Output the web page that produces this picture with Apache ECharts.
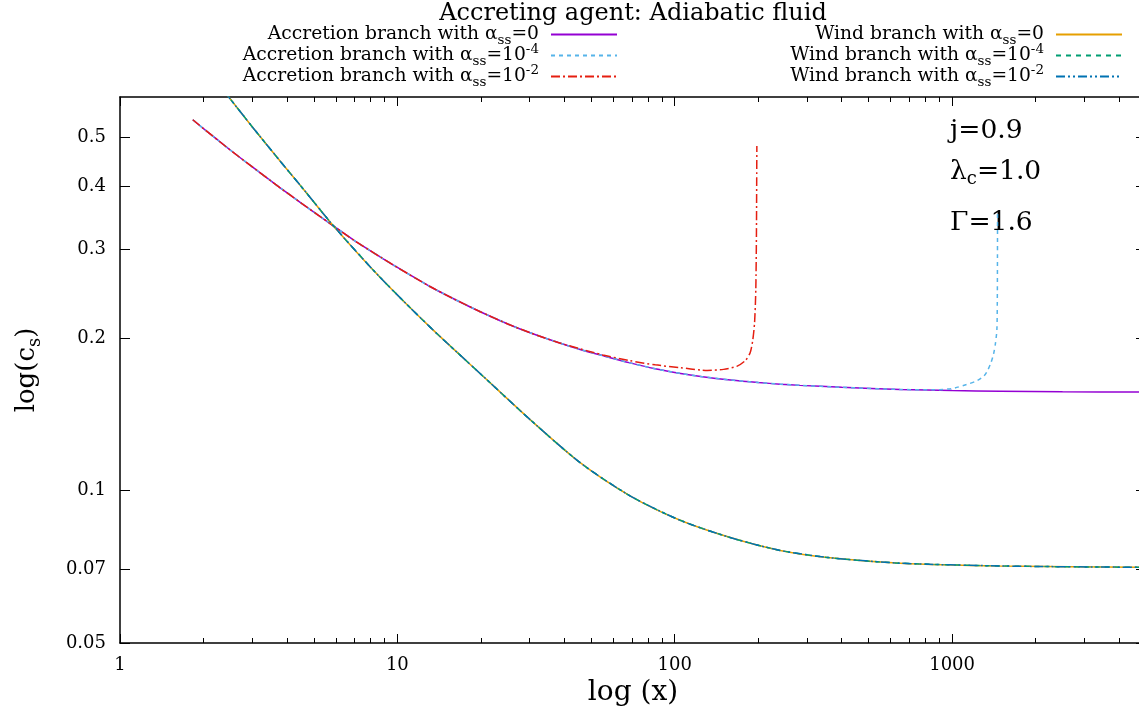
<!DOCTYPE html>
<html>
<head>
<meta charset="utf-8">
<script src="https://cdn.jsdelivr.net/npm/echarts@6/dist/echarts.min.js"></script>
<style>
html, body { margin: 0; padding: 0; background: #fff; }
#chart { width: 1139px; height: 721px; }
</style>
</head>
<body>
<div id="chart"></div>
<script>
// Sound speed c_s against radial distance x (log-log), adiabatic accretion and wind branches.

// Accretion branch, inviscid
const accX = [1.83, 2, 2.49, 3, 3.78, 4.5, 5.96, 7, 8.66, 10, 13.1, 16, 19.9, 25, 30.1, 38, 45.6, 55, 69, 85, 105, 124, 159, 200, 240, 283, 400, 650, 1000, 1490, 2500, 5000];
const accY = [0.541, 0.5196, 0.472, 0.4364, 0.3969, 0.3703, 0.332, 0.3122, 0.2899, 0.2762, 0.2533, 0.2393, 0.2258, 0.2136, 0.2052, 0.1963, 0.1902, 0.1849, 0.1789, 0.1742, 0.1705, 0.1682, 0.1655, 0.1636, 0.1624, 0.1615, 0.1601, 0.1585, 0.1577, 0.1572, 0.1568, 0.1566];

// Accretion branch, alpha_ss = 1e-4: leaves the inviscid curve beyond x = 650
const visc4Split = 650;
const visc4X = [860, 1000, 1130, 1230, 1300, 1340, 1380, 1410, 1432, 1450, 1455, 1457, 1458];
const visc4Y = [0.1583, 0.1592, 0.1622, 0.165, 0.1684, 0.1725, 0.179, 0.186, 0.195, 0.208, 0.235, 0.29, 0.355];

// Accretion branch, alpha_ss = 1e-2: leaves the inviscid curve beyond x = 38
const visc2Split = 38;
const visc2X = [45.6, 55, 69, 85, 105, 124, 131, 150, 168, 180, 187, 191, 194, 196, 197, 197.4, 197.7];
const visc2Y = [0.1907, 0.1855, 0.1807, 0.1773, 0.175, 0.1732, 0.1729, 0.1737, 0.1763, 0.181, 0.1874, 0.198, 0.215, 0.25, 0.32, 0.40, 0.48];

// Wind branch (identical for all three alpha_ss values)
const windX = [2.39, 2.458, 3, 3.776, 4.5, 5.96, 8.66, 13.12, 19.87, 30.1, 45.6, 69, 104.6, 158.5, 239.9, 363.4, 650, 1491, 4730, 5000];
const windY = [0.6136, 0.6013, 0.5236, 0.4484, 0.3994, 0.331, 0.2641, 0.2105, 0.1705, 0.1382, 0.1136, 0.0977, 0.0874, 0.0808, 0.0762, 0.0737, 0.0719, 0.0710, 0.0706, 0.0706];

// Axis ranges and ticks
const xRange = [1, 5000];
const yRange = [0.05, 0.6];
const xMajorTicks = [1, 10, 100, 1000];
const xMinorTicks = [2, 3, 4, 5, 6, 7, 8, 9, 20, 30, 40, 50, 60, 70, 80, 90, 200, 300, 400, 500, 600, 700, 800, 900, 2000, 3000, 4000];
const yTicks = [0.05, 0.07, 0.1, 0.2, 0.3, 0.4, 0.5];

// Legend text pieces
const branchNames = ['Accretion branch with ', 'Wind branch with '];
const alphaBase = ['0', '10', '10'];
const alphaExp = ['', '-4', '-2'];

// Parameter annotations
const paramText = ['{t|j=0.9}', '{t|λ}{s|c}{t|=1.0}', '{t|Γ=1.6}'];

const FONT = 'DejaVu Serif';
const lg = Math.log10;

function toPairs(xs, ys) {
  return xs.map((x, i) => [lg(x), lg(ys[i])]);
}
function headUntil(xs, ys, xEnd) {
  const out = [];
  xs.forEach((x, i) => { if (x <= xEnd) out.push([lg(x), lg(ys[i])]); });
  return out;
}
function fmtTick(v) {
  return String(Number(Math.pow(10, v).toPrecision(3)));
}

const seriesNames = [];
const legendRich = {};
branchNames.forEach((b) => {
  alphaBase.forEach((a, ai) => {
    const name = b + 'αss=' + a + alphaExp[ai];
    seriesNames.push(name);
    legendRich[name] = '{t|' + b + 'α}{sub|ss}{t|=' + a + '}' + (alphaExp[ai] ? '{sup|' + alphaExp[ai] + '}' : '');
  });
});

const seriesData = [
  toPairs(accX, accY),
  headUntil(accX, accY, visc4Split).concat(toPairs(visc4X, visc4Y)),
  headUntil(accX, accY, visc2Split).concat(toPairs(visc2X, visc2Y)),
  toPairs(windX, windY),
  toPairs(windX, windY),
  toPairs(windX, windY)
];
const colors = ['#9400d3', '#56b4e9', '#e51e10', '#e69f00', '#009e73', '#0072b2'];
const dashes = ['solid', [4, 4], [9, 3, 2, 3], 'solid', [5, 5], [9, 3, 2, 3, 2, 3]];

const series = seriesData.map((d, i) => ({
  name: seriesNames[i],
  type: 'line',
  data: d,
  xAxisIndex: 0,
  yAxisIndex: 0,
  symbol: 'none',
  smooth: 0.25,
  color: colors[i],
  lineStyle: { color: colors[i], width: 1.5, type: dashes[i] },
  emphasis: { disabled: true },
  animation: false
}));

const tickStyle = { color: '#000', width: 1 };
const borderStyle = { color: '#000', width: 1.5 };

function xAxisDef(position, major, showLine) {
  return {
    type: 'value',
    position: position,
    min: lg(xRange[0]),
    max: lg(xRange[1]),
    splitLine: { show: false },
    axisLine: { show: showLine, onZero: false, lineStyle: borderStyle },
    axisTick: { show: true, inside: true, length: major ? 9 : 5, lineStyle: tickStyle,
      customValues: (major ? xMajorTicks : xMinorTicks).map(lg) },
    axisLabel: { show: false }
  };
}

const xAxes = [
  xAxisDef('bottom', true, true),
  xAxisDef('bottom', false, false),
  xAxisDef('top', true, true),
  xAxisDef('top', false, false)
];
xAxes[0].axisLabel = {
  show: true, customValues: xMajorTicks.map(lg), formatter: fmtTick,
  margin: 13, color: '#000', fontFamily: FONT, fontSize: 18
};
xAxes[0].name = 'log (x)';
xAxes[0].nameLocation = 'middle';
xAxes[0].nameGap = 33;
xAxes[0].nameTextStyle = { fontFamily: FONT, fontSize: 28, color: '#000' };

function yAxisDef(position) {
  return {
    type: 'value',
    position: position,
    min: lg(yRange[0]),
    max: lg(yRange[1]),
    splitLine: { show: false },
    axisLine: { show: true, onZero: false, lineStyle: borderStyle },
    axisTick: { show: true, inside: true, length: 10, lineStyle: tickStyle, customValues: yTicks.map(lg) },
    axisLabel: { show: false }
  };
}
const yAxes = [yAxisDef('left'), yAxisDef('right')];
yAxes[0].axisLabel = {
  show: true, customValues: yTicks.map(lg), formatter: fmtTick,
  margin: 14, color: '#000', fontFamily: FONT, fontSize: 18
};
yAxes[0].name = '{t|log(c}{s|s}{t|)}';
yAxes[0].nameLocation = 'middle';
yAxes[0].nameRotate = 90;
yAxes[0].nameGap = 76;
yAxes[0].nameTextStyle = {
  color: '#000',
  rich: {
    t: { fontFamily: FONT, fontSize: 26, lineHeight: 34, color: '#000' },
    s: { fontFamily: FONT, fontSize: 18, lineHeight: 18, verticalAlign: 'bottom', color: '#000' }
  }
};

const legendText = {
  color: '#000',
  padding: [0, 7, 0, 0],
  rich: {
    t: { fontFamily: FONT, fontSize: 18.7, lineHeight: 26, color: '#000' },
    sub: { fontFamily: FONT, fontSize: 13.5, lineHeight: 13, verticalAlign: 'bottom', color: '#000' },
    sup: { fontFamily: FONT, fontSize: 13.5, lineHeight: 13, verticalAlign: 'top', color: '#000' }
  }
};
function legendDef(names, right) {
  return {
    data: names,
    orient: 'vertical',
    right: right,
    top: 25,
    align: 'right',
    padding: 0,
    itemWidth: 66,
    itemHeight: 14,
    itemGap: -5,
    selectedMode: false,
    itemStyle: { opacity: 0, borderWidth: 0 },
    formatter: (n) => legendRich[n],
    textStyle: legendText
  };
}

const paramRich = {
  t: { fontFamily: FONT, fontSize: 26.5, lineHeight: 32, fill: '#000' },
  s: { fontFamily: FONT, fontSize: 18, lineHeight: 16, verticalAlign: 'bottom', fill: '#000' }
};
const paramY = [131, 172, 223];

const option = {
  backgroundColor: '#fff',
  animation: false,
  title: {
    text: 'Accreting agent: Adiabatic fluid',
    left: 633,
    top: 2,
    padding: 0,
    textAlign: 'center',
    textStyle: { fontFamily: FONT, fontSize: 24, fontWeight: 'normal', color: '#000' }
  },
  legend: [legendDef(seriesNames.slice(0, 3), 521), legendDef(seriesNames.slice(3), 16)],
  grid: { left: 120, width: 1026, top: 97, bottom: 78, containLabel: false, outerBoundsMode: 'none' },
  xAxis: xAxes,
  yAxis: yAxes,
  series: series,
  graphic: paramText.map((txt, i) => ({
    type: 'text',
    x: 950,
    y: paramY[i],
    silent: true,
    style: { text: txt, rich: paramRich, fill: '#000', verticalAlign: 'middle', align: 'left' }
  }))
};

const chart = echarts.init(document.getElementById('chart'), null, { renderer: 'canvas' });
chart.setOption(option);
</script>
</body>
</html>
